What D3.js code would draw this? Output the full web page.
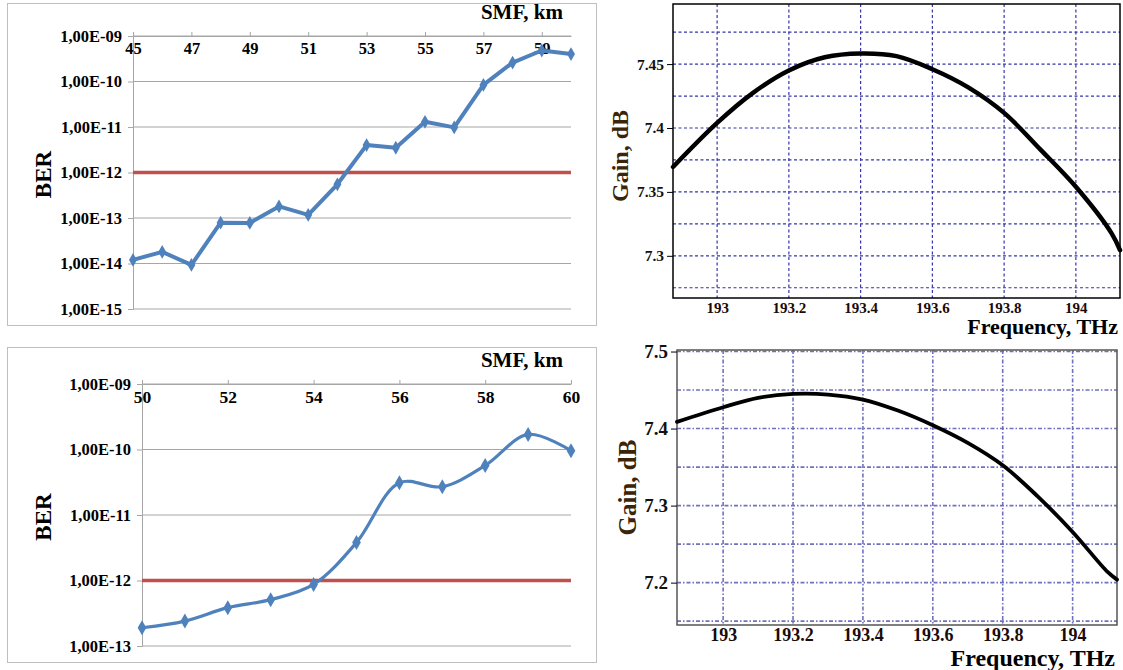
<!DOCTYPE html>
<html lang="en">
<head>
    <meta charset="UTF-8">
    <title>BER and Gain</title>
    <script src="https://cdn.jsdelivr.net/npm/d3@7"></script>
    <style>
        body { margin: 0; background: #fff; }
        text { font-family: "Liberation Serif", "DejaVu Serif", serif; font-weight: bold; }
    </style>
</head>
<body>
    <svg id="mainsvg" width="1123" height="670"></svg>
    <script>
        // BER vs SMF length (top left)
        const kmTop = [45, 46, 47, 48, 49, 50, 51, 52, 53, 54, 55, 56, 57, 58, 59, 60];
        const berTop = [1.2e-14, 1.8e-14, 9.3e-15, 7.9e-14, 7.8e-14, 1.8e-13, 1.17e-13, 5.5e-13,
            4.0e-12, 3.5e-12, 1.3e-11, 9.8e-12, 8.4e-11, 2.6e-10, 4.8e-10, 4.0e-10];
        const kmTicksTop = [45, 47, 49, 51, 53, 55, 57, 59];

        // BER vs SMF length (bottom left)
        const kmBot = [50, 51, 52, 53, 54, 55, 56, 57, 58, 59, 60];
        const berBot = [1.9e-13, 2.4e-13, 3.85e-13, 5.1e-13, 8.7e-13, 3.8e-12, 3.1e-11, 2.7e-11, 5.7e-11, 1.7e-10, 9.6e-11];
        const kmTicksBot = [50, 52, 54, 56, 58, 60];

        const berLimit = 1e-12;

        // Gain vs frequency (top right)
        const freqTop = [192.877, 193.0, 193.1, 193.2, 193.3, 193.4, 193.5, 193.6, 193.7, 193.8, 193.9, 194.0, 194.1, 194.123];
        const gainTop = [7.3695, 7.4040, 7.4275, 7.4450, 7.4553, 7.4583, 7.4562, 7.4460, 7.4318, 7.4118, 7.3835, 7.3540, 7.3174, 7.3044];
        const gainTicksTop = [7.3, 7.35, 7.4, 7.45];
        const gainGridTop = [7.275, 7.3, 7.325, 7.35, 7.375, 7.4, 7.425, 7.45, 7.475];

        // Gain vs frequency (bottom right)
        const freqBot = [192.868, 193.0, 193.1, 193.2, 193.3, 193.4, 193.5, 193.6, 193.7, 193.8, 193.9, 194.0, 194.1, 194.127];
        const gainBot = [7.4087, 7.4277, 7.4399, 7.4450, 7.4442, 7.4377, 7.4234, 7.4043, 7.3814, 7.3523, 7.3120, 7.2658, 7.2139, 7.2039];
        const gainTicksBot = [7.2, 7.3, 7.4, 7.5];
        const gainGridBot = [7.15, 7.2, 7.25, 7.3, 7.35, 7.4, 7.45, 7.5];

        const freqTicks = [193, 193.2, 193.4, 193.6, 193.8, 194];

        const svg = d3.select("#mainsvg");
        const berFormat = d => "1,00E-" + String(Math.round(-Math.log10(d))).padStart(2, "0");

        function berChart(frame, box, km, ber, kmTicks, decades, curve, markerSize, lineW, xFont) {
            svg.append("rect").attr("x", frame.x).attr("y", frame.y)
                .attr("width", frame.w).attr("height", frame.h)
                .attr("fill", "none").attr("stroke", "#bfbfbf");

            const x = d3.scaleLinear().domain([km[0], km[km.length - 1]]).range([box.left, box.right]);
            const y = d3.scaleLog().domain([decades[0], decades[decades.length - 1]]).range([box.bottom, box.top]);

            // horizontal grid
            svg.append("g").selectAll("line").data(decades).join("line")
                .attr("x1", box.left).attr("x2", box.right)
                .attr("y1", d => y(d)).attr("y2", d => y(d))
                .attr("stroke", "#a6a6a6").attr("stroke-width", 1);

            const yAxis = d3.axisLeft(y).tickValues(decades).tickFormat(berFormat).tickSize(5).tickPadding(6);
            const gy = svg.append("g").attr("transform", `translate(${box.left},0)`).call(yAxis);
            gy.select(".domain").attr("stroke", "#a6a6a6");
            gy.selectAll(".tick line").attr("stroke", "#a6a6a6");
            gy.selectAll(".tick text").style("font-size", "16.5px").attr("fill", "#000");

            const xAxis = d3.axisTop(x).tickValues(kmTicks).tickFormat(d3.format("d")).tickSize(4).tickSizeOuter(0);
            const gx = svg.append("g").attr("transform", `translate(0,${box.top})`).call(xAxis);
            gx.select(".domain").attr("stroke", "#a6a6a6");
            gx.selectAll(".tick line").attr("stroke", "#a6a6a6");
            gx.selectAll(".tick text").style("font-size", xFont).attr("fill", "#000")
                .attr("y", 13).attr("dy", "0.32em");

            // threshold line
            svg.append("line").attr("x1", box.left).attr("x2", box.right)
                .attr("y1", y(berLimit)).attr("y2", y(berLimit))
                .attr("stroke", "#c0504d").attr("stroke-width", 3.5);

            const pts = km.map((k, i) => [k, ber[i]]);
            const line = d3.line().x(d => x(d[0])).y(d => y(d[1])).curve(curve);
            svg.append("path").datum(pts).attr("d", line)
                .attr("fill", "none").attr("stroke", "#4f81bd").attr("stroke-width", lineW)
                .attr("stroke-linejoin", "round");
            svg.append("g").selectAll("path").data(pts).join("path")
                .attr("d", d3.symbol(d3.symbolDiamond, markerSize))
                .attr("transform", d => `translate(${x(d[0])},${y(d[1])})`)
                .attr("fill", "#4f81bd");

            svg.append("text").text("SMF, km").attr("x", box.right - 8).attr("y", box.top - 17)
                .attr("text-anchor", "end").style("font-size", "21px").attr("fill", "#000");
            svg.append("text").text("BER")
                .attr("transform", `translate(${frame.x + 38},${(box.top + box.bottom) / 2 + 2}) rotate(-90)`)
                .attr("text-anchor", "middle").attr("dominant-baseline", "middle")
                .style("font-size", "23px").attr("fill", "#000");
        }

        berChart({x: 7.5, y: 3.5, w: 589, h: 322},
            {left: 133, right: 571, top: 36, bottom: 309},
            kmTop, berTop, kmTicksTop, [1e-15, 1e-14, 1e-13, 1e-12, 1e-11, 1e-10, 1e-9],
            d3.curveLinear, 55, 4, "16.5px");

        berChart({x: 7.5, y: 347.5, w: 589, h: 315},
            {left: 142, right: 571, top: 384, bottom: 646},
            kmBot, berBot, kmTicksBot, [1e-13, 1e-12, 1e-11, 1e-10, 1e-9],
            d3.curveCatmullRom.alpha(0.5), 65, 3.2, "17.5px");

        function gainChart(box, xDom, yDom, freq, gain, yTicks, yGrid, opt) {
            const x = d3.scaleLinear().domain(xDom).range([box.left, box.right]);
            const y = d3.scaleLinear().domain(yDom).range([box.bottom, box.top]);

            svg.append("g").selectAll("line").data(freqTicks).join("line")
                .attr("x1", d => x(d)).attr("x2", d => x(d))
                .attr("y1", box.top).attr("y2", box.bottom)
                .attr("stroke", opt.gridColor).attr("stroke-width", opt.gridW).attr("stroke-dasharray", opt.gridDash);
            svg.append("g").selectAll("line").data(yGrid).join("line")
                .attr("x1", box.left).attr("x2", box.right)
                .attr("y1", d => y(d)).attr("y2", d => y(d))
                .attr("stroke", opt.gridColor).attr("stroke-width", opt.gridW).attr("stroke-dasharray", opt.gridDash);

            svg.append("rect").attr("x", box.left).attr("y", box.top)
                .attr("width", box.right - box.left).attr("height", box.bottom - box.top)
                .attr("fill", "none").attr("stroke", opt.frameColor).attr("stroke-width", 1.5);

            const yAxis = d3.axisLeft(y).tickValues(yTicks).tickFormat(d => String(d)).tickSize(6).tickPadding(3);
            const gy = svg.append("g").attr("transform", `translate(${box.left},0)`).call(yAxis);
            gy.select(".domain").remove();
            gy.selectAll(".tick line").attr("stroke", "#000");
            gy.selectAll(".tick text").style("font-size", opt.yFont).attr("fill", "#111");

            const xAxis = d3.axisBottom(x).tickValues(freqTicks).tickFormat(d => String(d)).tickSize(0);
            const gx = svg.append("g").attr("transform", `translate(0,${box.bottom})`).call(xAxis);
            gx.select(".domain").remove();
            gx.selectAll(".tick text").style("font-size", opt.xFont).attr("fill", "#1a0a0a")
                .attr("y", opt.tickY).attr("dy", "0.32em");

            const pts = freq.map((f, i) => [f, gain[i]]);
            const line = d3.line().x(d => x(d[0])).y(d => y(d[1])).curve(d3.curveCatmullRom.alpha(0.5));
            svg.append("path").datum(pts).attr("d", line)
                .attr("fill", "none").attr("stroke", "#000").attr("stroke-width", opt.lineW)
                .attr("stroke-linecap", "round");

            svg.append("text").text("Frequency, THz").attr("x", box.right - 2).attr("y", box.bottom + opt.titleY)
                .attr("text-anchor", "end").attr("dominant-baseline", "middle")
                .style("font-size", opt.titleFont).attr("fill", "#000");
            svg.append("text").text("Gain, dB")
                .attr("transform", `translate(${box.left + opt.gainDx},${(box.top + box.bottom) / 2 + opt.gainDy}) rotate(-90)`)
                .attr("text-anchor", "middle").attr("dominant-baseline", "middle")
                .style("font-size", opt.gainFont).attr("fill", "#3a2508");
        }

        gainChart({left: 673, right: 1120, top: 4, bottom: 298},
            [192.877, 194.123], [7.267, 7.497], freqTop, gainTop, gainTicksTop, gainGridTop,
            {gridDash: "3,2.5", gridColor: "#3535a8", gridW: 1.2, frameColor: "#000", tickY: 10, titleY: 31,
             titleFont: "22px", xFont: "15px", yFont: "15.5px", lineW: 4.5, gainFont: "24px", gainDx: -51, gainDy: 5});

        gainChart({left: 677, right: 1117, top: 350, bottom: 625},
            [192.868, 194.127], [7.145, 7.502], freqBot, gainBot, gainTicksBot, gainGridBot,
            {gridDash: "4,2,1.5,2", gridColor: "#7070c0", gridW: 1.6, frameColor: "#555", tickY: 10, titleY: 35,
             titleFont: "24px", xFont: "18px", yFont: "19px", lineW: 3.8, gainFont: "25px", gainDx: -47, gainDy: 0});
    </script>
</body>
</html>
